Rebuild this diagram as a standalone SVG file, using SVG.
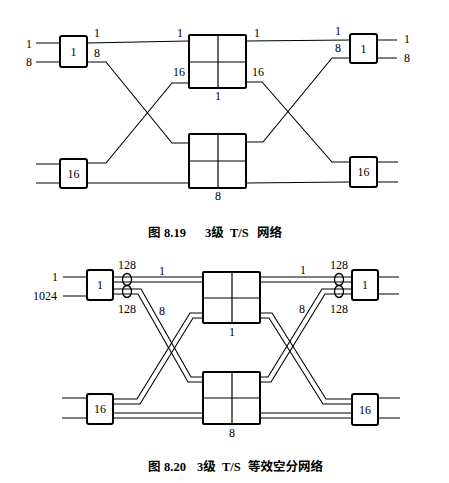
<svg xmlns="http://www.w3.org/2000/svg" width="449" height="483" viewBox="0 0 449 483">
<style>
.bx{fill:#fff;stroke:#000;stroke-width:2}
.g{stroke:#000;stroke-width:1.2;fill:none}
.ln{fill:none;stroke:#000;stroke-width:1.1}
.el{fill:none;stroke:#000;stroke-width:1.3}
.t{font-family:"Liberation Serif",serif;font-size:12px;fill:#000;text-anchor:middle}
.cap{font-family:"Liberation Serif","Noto Sans CJK SC",serif;font-size:12.5px;font-weight:bold;fill:#000}
</style>
<rect width="449" height="483" fill="#fff"/>
<g id="connectors">
<g id="top-connectors">
<path class="ln" d="M36,43H60M36,62H60M36,164H60M36,183H60"/>
<path class="ln" d="M87,43L189,41"/>
<polyline class="ln" points="87,62 106,62 172,143 189,143"/>
<polyline class="ln" points="87,163 106,163 172,83 189,83"/>
<path class="ln" d="M87,183H189"/>
<path class="ln" d="M246,41L350,40"/>
<polyline class="ln" points="246,82 262,82 332,162 350,162"/>
<polyline class="ln" points="350,58 332,58 263,142 246,142"/>
<path class="ln" d="M246,183L350,182"/>
<path class="ln" d="M377,40H397M377,58H397M377,162H398M377,182H398"/>
</g>
<g id="bottom-connectors">
<path class="ln" d="M63,277H87M63,296H87M62,398H87M62,418H87"/>
<path class="ln" d="M378,277H399M378,294H399M378,398H400M378,418H400"/>
<path class="ln" d="M113,277H203M113,282H203"/>
<polyline class="ln" points="113,289 141,289 191,377 203,377"/>
<polyline class="ln" points="113,294 138,294 188,382 203,382"/>
<polyline class="ln" points="113,399 137,399 190,313 203,313"/>
<polyline class="ln" points="113,404 140,404 193,318 203,318"/>
<path class="ln" d="M113,413H203M113,418H203"/>
<path class="ln" d="M260,277H352M260,282H352"/>
<polyline class="ln" points="352,289 322,289 268,377 260,377"/>
<polyline class="ln" points="352,294 325,294 271,382 260,382"/>
<polyline class="ln" points="260,313 272,313 326,399 352,399"/>
<polyline class="ln" points="260,318 269,318 323,404 352,404"/>
<path class="ln" d="M260,413H352M260,418H352"/>
<ellipse class="el" cx="127" cy="279.5" rx="4.5" ry="6"/>
<ellipse class="el" cx="127" cy="291.5" rx="4.5" ry="6"/>
<ellipse class="el" cx="339" cy="279.5" rx="4.5" ry="6"/>
<ellipse class="el" cx="339" cy="291.5" rx="4.5" ry="6"/>
</g>
</g>
<g id="t-in1"><rect class="bx" x="60" y="36" width="27" height="31" rx="2"/><text class="t" x="73.5" y="56">1</text></g>
<g id="t-in16"><rect class="bx" x="60" y="159" width="27" height="29" rx="2"/><text class="t" x="73.5" y="178">16</text></g>
<g id="t-s1"><rect class="bx" x="189" y="35" width="57" height="53" rx="1"/><path class="g" d="M218,35V88M189,62H246"/></g>
<g id="t-s8"><rect class="bx" x="189" y="134" width="57" height="54" rx="1"/><path class="g" d="M218,134V188M189,161H246"/></g>
<g id="t-out1"><rect class="bx" x="350" y="34" width="27" height="29" rx="2"/><text class="t" x="363.5" y="53">1</text></g>
<g id="t-out16"><rect class="bx" x="350" y="157" width="27" height="30" rx="2"/><text class="t" x="363.5" y="176">16</text></g>
<g id="top-labels">
<text class="t" x="29" y="48">1</text>
<text class="t" x="29" y="66">8</text>
<text class="t" x="97" y="37">1</text>
<text class="t" x="97" y="57">8</text>
<text class="t" x="180" y="37">1</text>
<text class="t" x="179" y="76">16</text>
<text class="t" x="218" y="100">1</text>
<text class="t" x="218" y="200">8</text>
<text class="t" x="257" y="37">1</text>
<text class="t" x="258" y="76">16</text>
<text class="t" x="338" y="35">1</text>
<text class="t" x="338" y="52">8</text>
<text class="t" x="407" y="43">1</text>
<text class="t" x="407" y="62">8</text>
</g>
<text class="cap" y="237"><tspan x="148">图</tspan><tspan x="164">8.19</tspan><tspan x="205">3级</tspan><tspan x="230">T/S</tspan><tspan x="257">网络</tspan></text>
<g id="b-in1"><rect class="bx" x="87" y="270" width="26" height="30" rx="2"/><text class="t" x="100" y="289">1</text></g>
<g id="b-in16"><rect class="bx" x="87" y="394" width="26" height="30" rx="2"/><text class="t" x="100" y="413">16</text></g>
<g id="b-s1"><rect class="bx" x="203" y="272" width="57" height="51" rx="1"/><path class="g" d="M232,272V323M203,298H260"/></g>
<g id="b-s8"><rect class="bx" x="203" y="372" width="57" height="52" rx="1"/><path class="g" d="M232,372V424M203,398H260"/></g>
<g id="b-out1"><rect class="bx" x="352" y="270" width="26" height="30" rx="2"/><text class="t" x="365" y="289">1</text></g>
<g id="b-out16"><rect class="bx" x="352" y="394" width="26" height="31" rx="2"/><text class="t" x="365" y="414">16</text></g>
<g id="bottom-labels">
<text class="t" x="55" y="281">1</text>
<text class="t" x="45" y="300">1024</text>
<text class="t" x="127" y="269">128</text>
<text class="t" x="127" y="313">128</text>
<text class="t" x="162" y="275">1</text>
<text class="t" x="162" y="315">8</text>
<text class="t" x="232" y="336">1</text>
<text class="t" x="232" y="437">8</text>
<text class="t" x="303" y="274">1</text>
<text class="t" x="302" y="313">8</text>
<text class="t" x="339" y="269">128</text>
<text class="t" x="339" y="313">128</text>
</g>
<text class="cap" y="471"><tspan x="148">图</tspan><tspan x="164">8.20</tspan><tspan x="197">3级</tspan><tspan x="222">T/S</tspan><tspan x="248">等效空分网络</tspan></text>
</svg>
